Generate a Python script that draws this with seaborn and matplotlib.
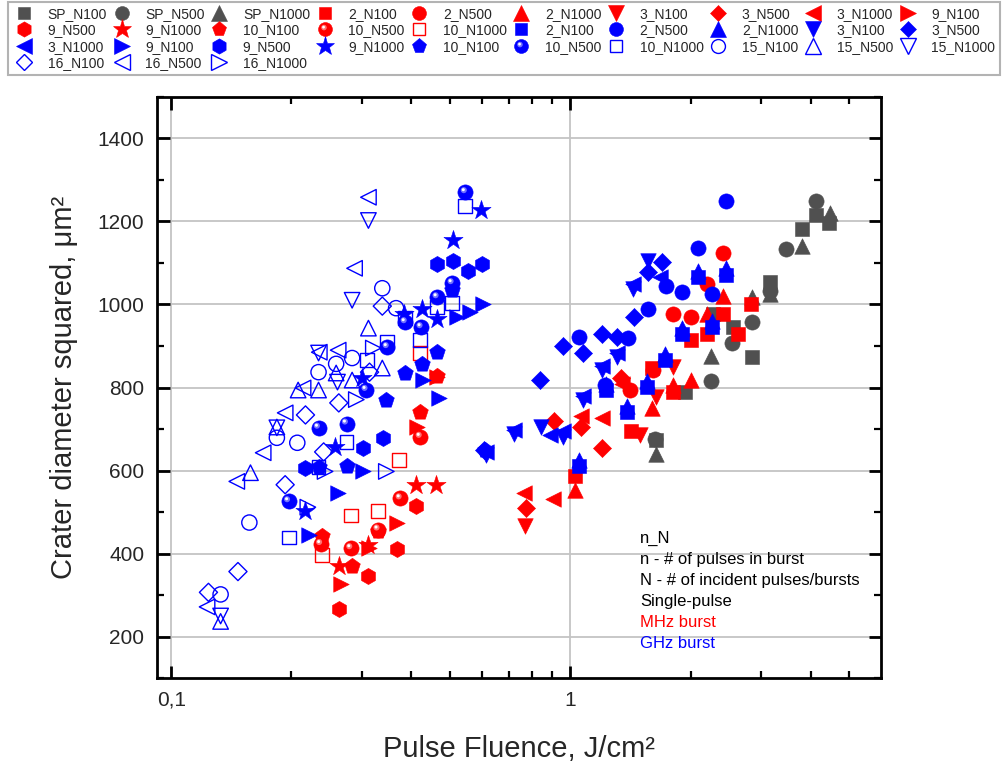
import numpy as np
import matplotlib
matplotlib.use("Agg")
import matplotlib.pyplot as plt
import seaborn as sns
from matplotlib.path import Path
from matplotlib.lines import Line2D
from matplotlib.ticker import FixedLocator, FixedFormatter, MultipleLocator, NullFormatter

# ---------------- data: pulse fluence (J/cm^2) and crater diameter squared (um^2) ----------------
# Single pulse
sp_n100_f = [1.643, 1.942, 2.283, 2.561, 2.858, 3.172, 3.815, 4.136, 4.459]
sp_n100_d = [674, 789, 978, 945, 873, 1055, 1182, 1215, 1196]
sp_n500_f = [1.630, 2.256, 2.547, 2.858, 3.172, 3.478, 4.136]
sp_n500_d = [676, 815, 906, 957, 1033, 1134, 1249]
sp_n1000_f = [1.643, 2.256, 2.858, 3.172, 3.815, 4.480]
sp_n1000_d = [640, 877, 1017, 1024, 1141, 1220]

# MHz burst
mhz_2_n100_f = [1.029, 1.422, 1.606, 1.812, 2.010, 2.205, 2.418, 2.636, 2.842]
mhz_2_n100_d = [586, 696, 847, 789, 914, 930, 978, 930, 1002]
mhz_2_n500_f = [1.414, 1.614, 1.812, 2.010, 2.205, 2.418]
mhz_2_n500_d = [794, 842, 978, 969, 1050, 1124]
mhz_2_n1000_f = [1.029, 1.606, 1.812, 2.010, 2.205, 2.418]
mhz_2_n1000_d = [554, 751, 806, 818, 978, 1021]
mhz_3_n100_f = [0.771, 1.497, 1.643, 1.812]
mhz_3_n100_d = [466, 686, 777, 849]
mhz_3_n500_f = [0.776, 0.912, 1.066, 1.203, 1.342]
mhz_3_n500_d = [511, 720, 705, 655, 823]
mhz_3_n1000_f = [0.767, 0.906, 1.066, 1.203, 1.350]
mhz_3_n1000_d = [547, 531, 732, 727, 808]
mhz_9_n100_f = [0.267, 0.313, 0.368, 0.414, 0.464]
mhz_9_n100_d = [327, 413, 475, 705, 825]
mhz_9_n500_f = [0.263, 0.312, 0.368, 0.411]
mhz_9_n500_d = [267, 346, 411, 514]
mhz_9_n1000_f = [0.263, 0.312, 0.411, 0.462]
mhz_9_n1000_d = [370, 421, 566, 566]
mhz_10_n100_f = [0.239, 0.284, 0.330, 0.421, 0.464]
mhz_10_n100_d = [442, 370, 454, 741, 827]
mhz_10_n500_f = [0.237, 0.282, 0.330, 0.375, 0.421]
mhz_10_n500_d = [423, 413, 458, 533, 681]
mhz_10_n1000_f = [0.239, 0.282, 0.330, 0.373, 0.421]
mhz_10_n1000_d = [396, 492, 502, 626, 883]

# GHz burst
ghz_2_n100_f = [1.053, 1.231, 1.390, 1.560, 1.730, 1.909, 2.094, 2.270, 2.460]
ghz_2_n100_d = [610, 794, 741, 801, 866, 928, 1065, 945, 1072]
ghz_2_n500_f = [1.053, 1.224, 1.397, 1.568, 1.740, 1.909, 2.094, 2.270, 2.460]
ghz_2_n500_d = [921, 806, 919, 990, 1045, 1031, 1136, 1026, 1249]
ghz_2_n1000_f = [1.053, 1.231, 1.390, 1.560, 1.730, 1.909, 2.094, 2.270, 2.460]
ghz_2_n1000_d = [625, 809, 756, 816, 881, 943, 1080, 960, 1087]
ghz_3_n100_f = [0.616, 0.724, 0.846, 0.960, 1.078, 1.203, 1.311, 1.439, 1.568]
ghz_3_n100_d = [638, 689, 705, 681, 770, 842, 873, 1038, 1105]
ghz_3_n500_f = [0.609, 0.841, 0.960, 1.078, 1.203, 1.311, 1.447, 1.568, 1.700]
ghz_3_n500_d = [650, 818, 899, 883, 928, 921, 969, 1077, 1103]
ghz_3_n1000_f = [0.616, 0.724, 0.891, 0.960, 1.078, 1.203, 1.311, 1.439, 1.681]
ghz_3_n1000_d = [645, 698, 686, 696, 780, 851, 882, 1050, 1067]
ghz_9_n100_f = [0.221, 0.262, 0.303, 0.428, 0.470, 0.521, 0.562, 0.605]
ghz_9_n100_d = [444, 547, 598, 818, 775, 969, 981, 1002]
ghz_9_n500_f = [0.217, 0.303, 0.340, 0.464, 0.509, 0.555, 0.602]
ghz_9_n500_d = [607, 655, 679, 1098, 1105, 1081, 1098]
ghz_9_n1000_f = [0.217, 0.257, 0.301, 0.384, 0.426, 0.464, 0.509, 0.599]
ghz_9_n1000_d = [502, 657, 823, 978, 988, 965, 1156, 1228]
ghz_10_n100_f = [0.234, 0.275, 0.346, 0.386, 0.426, 0.464, 0.506, 0.612]
ghz_10_n100_d = [609, 612, 770, 835, 857, 886, 1034, 650]
ghz_10_n500_f = [0.197, 0.234, 0.275, 0.308, 0.348, 0.386, 0.423, 0.464, 0.506, 0.546]
ghz_10_n500_d = [526, 703, 713, 794, 897, 957, 945, 1017, 1051, 1270]
ghz_10_n1000_f = [0.197, 0.234, 0.275, 0.310, 0.348, 0.386, 0.421, 0.464, 0.506, 0.546]
ghz_10_n1000_d = [439, 609, 669, 866, 910, 967, 914, 994, 1003, 1238]
ghz_15_n100_f = [0.133, 0.157, 0.184, 0.207, 0.234, 0.259, 0.284, 0.338, 0.366]
ghz_15_n100_d = [302, 475, 679, 667, 837, 857, 871, 1039, 991]
ghz_15_n500_f = [0.133, 0.158, 0.184, 0.208, 0.234, 0.259, 0.284, 0.312, 0.338]
ghz_15_n500_d = [237, 595, 705, 794, 794, 835, 818, 943, 847]
ghz_15_n1000_f = [0.133, 0.184, 0.234, 0.261, 0.284, 0.312]
ghz_15_n1000_d = [250, 703, 883, 813, 1010, 1202]
ghz_16_n100_f = [0.124, 0.147, 0.193, 0.217, 0.241, 0.263, 0.314, 0.338]
ghz_16_n100_d = [307, 357, 566, 734, 645, 763, 837, 996]
ghz_16_n500_f = [0.123, 0.146, 0.170, 0.193, 0.214, 0.235, 0.262, 0.288, 0.312]
ghz_16_n500_d = [272, 574, 643, 739, 799, 885, 890, 1087, 1258]
ghz_16_n1000_f = [0.220, 0.243, 0.291, 0.321, 0.346]
ghz_16_n1000_d = [512, 598, 771, 895, 598]

x_tick_values = [0.1, 1]
x_tick_labels = ["0,1", "1"]
note_lines = ["n_N", "n - # of pulses in burst", "N - # of incident pulses/bursts",
              "Single-pulse", "MHz burst", "GHz burst"]

# ---------------- styling ----------------
GRAY, RED, BLUE = "#505050", "#ff0000", "#0000ff"


def _spot(cx, cy, r):
    """Small disc placed inside a marker frame spanning [-1, 1]."""
    circ = Path.unit_circle()
    verts = np.vstack([[[-1, -1], [1, 1]], circ.vertices * r + [cx, cy]])
    codes = np.concatenate([[Path.MOVETO, Path.MOVETO], circ.codes])
    return Path(verts, codes)


GLOW = _spot(-0.22, 0.28, 0.40)
GLINT = _spot(-0.28, 0.34, 0.20)

# (label, fluence, d^2, colour, marker, kind)  kind: fill / open / sphere
series = [
    ("SP_N100", sp_n100_f, sp_n100_d, GRAY, "s", "fill"),
    ("SP_N500", sp_n500_f, sp_n500_d, GRAY, "o", "fill"),
    ("SP_N1000", sp_n1000_f, sp_n1000_d, GRAY, "^", "fill"),
    ("2_N100", mhz_2_n100_f, mhz_2_n100_d, RED, "s", "fill"),
    ("2_N500", mhz_2_n500_f, mhz_2_n500_d, RED, "o", "fill"),
    ("2_N1000", mhz_2_n1000_f, mhz_2_n1000_d, RED, "^", "fill"),
    ("3_N100", mhz_3_n100_f, mhz_3_n100_d, RED, "v", "fill"),
    ("3_N500", mhz_3_n500_f, mhz_3_n500_d, RED, "D", "fill"),
    ("3_N1000", mhz_3_n1000_f, mhz_3_n1000_d, RED, "<", "fill"),
    ("9_N100", mhz_9_n100_f, mhz_9_n100_d, RED, ">", "fill"),
    ("9_N500", mhz_9_n500_f, mhz_9_n500_d, RED, "h", "fill"),
    ("9_N1000", mhz_9_n1000_f, mhz_9_n1000_d, RED, "*", "fill"),
    ("10_N100", mhz_10_n100_f, mhz_10_n100_d, RED, "p", "fill"),
    ("10_N500", mhz_10_n500_f, mhz_10_n500_d, RED, "o", "sphere"),
    ("10_N1000", mhz_10_n1000_f, mhz_10_n1000_d, RED, "s", "open"),
    ("2_N100", ghz_2_n100_f, ghz_2_n100_d, BLUE, "s", "fill"),
    ("2_N500", ghz_2_n500_f, ghz_2_n500_d, BLUE, "o", "fill"),
    ("2_N1000", ghz_2_n1000_f, ghz_2_n1000_d, BLUE, "^", "fill"),
    ("3_N100", ghz_3_n100_f, ghz_3_n100_d, BLUE, "v", "fill"),
    ("3_N500", ghz_3_n500_f, ghz_3_n500_d, BLUE, "D", "fill"),
    ("3_N1000", ghz_3_n1000_f, ghz_3_n1000_d, BLUE, "<", "fill"),
    ("9_N100", ghz_9_n100_f, ghz_9_n100_d, BLUE, ">", "fill"),
    ("9_N500", ghz_9_n500_f, ghz_9_n500_d, BLUE, "h", "fill"),
    ("9_N1000", ghz_9_n1000_f, ghz_9_n1000_d, BLUE, "*", "fill"),
    ("10_N100", ghz_10_n100_f, ghz_10_n100_d, BLUE, "p", "fill"),
    ("10_N500", ghz_10_n500_f, ghz_10_n500_d, BLUE, "o", "sphere"),
    ("10_N1000", ghz_10_n1000_f, ghz_10_n1000_d, BLUE, "s", "open"),
    ("15_N100", ghz_15_n100_f, ghz_15_n100_d, BLUE, "o", "open"),
    ("15_N500", ghz_15_n500_f, ghz_15_n500_d, BLUE, "^", "open"),
    ("15_N1000", ghz_15_n1000_f, ghz_15_n1000_d, BLUE, "v", "open"),
    ("16_N100", ghz_16_n100_f, ghz_16_n100_d, BLUE, "D", "open"),
    ("16_N500", ghz_16_n500_f, ghz_16_n500_d, BLUE, "<", "open"),
    ("16_N1000", ghz_16_n1000_f, ghz_16_n1000_d, BLUE, ">", "open"),
]

SIZE = {"s": 100, "o": 120, "^": 125, "v": 125, "<": 125, ">": 125,
        "D": 85, "h": 135, "p": 140, "*": 210}
LEG_MS = {"s": 9, "o": 10, "^": 11, "v": 11, "<": 11, ">": 11,
          "D": 8, "h": 11, "p": 11, "*": 14}


def lighten(c, amt):
    rgb = np.array(matplotlib.colors.to_rgb(c))
    return tuple(rgb + (1 - rgb) * amt)


sns.set_style("ticks")
plt.rcParams["font.family"] = ["Liberation Sans", "DejaVu Sans"]

fig = plt.figure(figsize=(10.02, 7.67), dpi=100)
ax = fig.add_axes([0.1564, 0.1156, 0.7228, 0.7583])
ax.set_xscale("log")

handles = []
for label, fx, dy, col, mk, kind in series:
    s = SIZE[mk]
    if kind == "open":
        sns.scatterplot(x=fx, y=dy, ax=ax, marker=mk, s=s, color=col,
                        facecolor="none", edgecolor=col, linewidth=1.0, legend=False, zorder=3)
        h = Line2D([], [], ls="none", marker=mk, markersize=LEG_MS[mk],
                   markerfacecolor="none", markeredgecolor=col, markeredgewidth=1.0)
    else:
        sns.scatterplot(x=fx, y=dy, ax=ax, marker=mk, s=s, color=col,
                        edgecolor=col, linewidth=0.4, legend=False, zorder=3)
        h = Line2D([], [], ls="none", marker=mk, markersize=LEG_MS[mk],
                   markerfacecolor=col, markeredgecolor=col, markeredgewidth=0.4)
        if kind == "sphere":
            sns.scatterplot(x=fx, y=dy, ax=ax, marker=GLOW, s=s, color=lighten(col, 0.45),
                            linewidth=0, edgecolor="none", legend=False, zorder=3)
            sns.scatterplot(x=fx, y=dy, ax=ax, marker=GLINT, s=s, color="white",
                            linewidth=0, edgecolor="none", legend=False, zorder=3)
            h = (h,
                 Line2D([], [], ls="none", marker=GLOW, markersize=LEG_MS[mk],
                        markerfacecolor=lighten(col, 0.45), markeredgewidth=0),
                 Line2D([], [], ls="none", marker=GLINT, markersize=LEG_MS[mk],
                        markerfacecolor="white", markeredgewidth=0))
    handles.append((h, label))

# ---------------- axes ----------------
ax.set_xlim(0.092, 6.0)
ax.set_ylim(100, 1500)
ax.xaxis.set_major_locator(FixedLocator(x_tick_values))
ax.xaxis.set_major_formatter(FixedFormatter(x_tick_labels))
ax.xaxis.set_minor_locator(FixedLocator([0.2, 0.3, 0.4, 0.5, 0.6, 0.7, 0.8, 0.9, 2, 3, 4, 5]))
ax.xaxis.set_minor_formatter(NullFormatter())
ax.yaxis.set_major_locator(FixedLocator(list(range(200, 1401, 200))))
ax.yaxis.set_minor_locator(MultipleLocator(100))

ax.grid(True, which="major", color="#c4c4c4", linewidth=1.3)
ax.set_axisbelow(True)
for sp in ax.spines.values():
    sp.set_visible(True)
    sp.set_linewidth(2.0)
    sp.set_color("black")
ax.tick_params(which="both", direction="in", top=True, right=True, color="black")
ax.tick_params(which="major", length=9, width=2.0, labelsize=15, pad=9)
ax.tick_params(which="minor", length=5, width=1.6)

ax.set_xlabel("Pulse Fluence, J/cm\u00b2", fontsize=21, labelpad=18)
ax.set_ylabel("Crater diameter squared, \u03bcm\u00b2", fontsize=21, labelpad=14)

note_colors = ["black", "black", "black", "black", RED, BLUE]
for i, (txt, c) in enumerate(zip(note_lines, note_colors)):
    ax.text(0.667, 0.241 - i * 0.0362, txt, transform=ax.transAxes, color=c,
            fontsize=12, va="center", ha="left")

# ---------------- legend (row-wise, 10 columns) ----------------
ncol, nrow = 10, 4
ordered = []
for c in range(ncol):
    for r in range(nrow):
        k = r * ncol + c
        if k < len(handles):
            ordered.append(handles[k])
leg = fig.legend([h for h, _ in ordered], [l for _, l in ordered],
                 loc="lower left", bbox_to_anchor=(0.008, 0.902, 0.99, 0.088),
                 mode="expand", ncol=ncol, fontsize=10, frameon=True, fancybox=False,
                 edgecolor="#a0a0a0", handlelength=1.6, handletextpad=0.9,
                 labelspacing=0.18, borderpad=0.35, columnspacing=0.4, borderaxespad=0)
leg.get_frame().set_linewidth(1.5)

fig.savefig("out.png", dpi=100)
